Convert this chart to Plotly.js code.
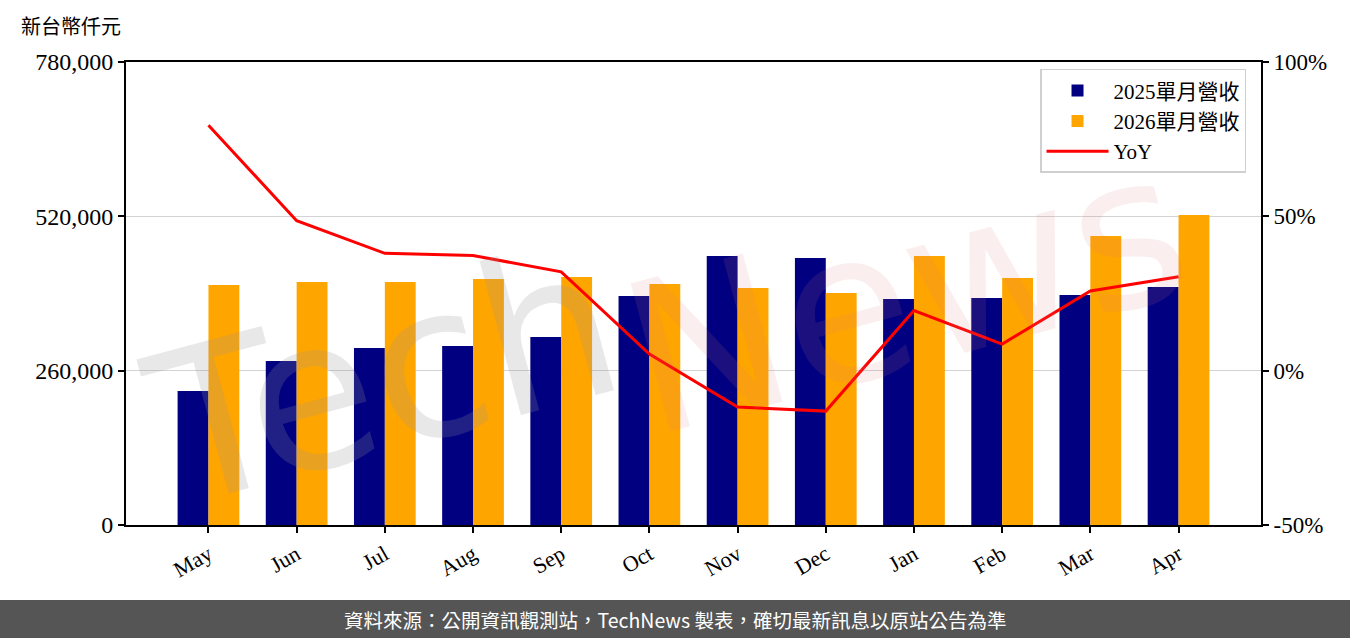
<!DOCTYPE html>
<html>
<head>
<meta charset="utf-8">
<script src="https://cdn.plot.ly/plotly-3.0.1.min.js"></script>
<style>
html,body{margin:0;padding:0;background:#fff;}
#chart{width:1350px;height:638px;}
</style>
</head>
<body>
<div id="chart"></div>
<script>
const months = ["May","Jun","Jul","Aug","Sep","Oct","Nov","Dec","Jan","Feb","Mar","Apr"];
const rev2025 = [225700, 276300, 298200, 301600, 316700, 385800, 453200, 449800, 380700, 382400, 387500, 401000];
const rev2026 = [404300, 409400, 409400, 414400, 417800, 406000, 399300, 390900, 453200, 416100, 486900, 522300];
const yoy = [79.5, 48.6, 38.0, 37.3, 32.0, 5.4, -11.8, -13.1, 19.5, 8.6, 25.8, 30.4];
const leftTicks = [0, 260000, 520000, 780000];
const rightTicks = [-50, 0, 50, 100];
const rightTickText = ["-50%", "0%", "50%", "100%"];
const unitLabel = "新台幣仟元";
const footerText = "資料來源：公開資訊觀測站，TechNews 製表，確切最新訊息以原站公告為準";

const serif = "'Liberation Serif', 'DejaVu Serif', 'Noto Sans CJK TC', serif";

const traces = [
  {type:"bar", name:"2025單月營收", x:months, y:rev2025, marker:{color:"#000080"}, yaxis:"y"},
  {type:"bar", name:"2026單月營收", x:months, y:rev2026, marker:{color:"#FFA500"}, yaxis:"y"},
  {type:"scatter", mode:"lines", name:"YoY", x:months, y:yoy, line:{color:"#FF0000", width:3}, yaxis:"y2"}
];

const layout = {
  width:1350, height:638,
  margin:{l:126, r:89, t:62, b:113},
  paper_bgcolor:"#fff", plot_bgcolor:"#fff",
  font:{family:serif, size:19, color:"#000"},
  barmode:"group", bargap:0.3, bargroupgap:0,
  showlegend:true,
  legend:{x:0.9868, xanchor:"right", y:0.985, yanchor:"top",
    bgcolor:"rgba(255,255,255,0.85)", bordercolor:"#d0d0d0", borderwidth:1.5,
    font:{family:serif, size:21}, itemwidth:62, tracegroupgap:0},
  xaxis:{type:"category", range:[-0.935, 11.935], showline:true, linecolor:"#000", linewidth:2, mirror:true,
    ticks:"outside", ticklen:6, tickwidth:2, tickcolor:"#000", tickangle:-30,
    tickfont:{family:serif, size:22}, showgrid:false, zeroline:false},
  yaxis:{range:[0,780000], tickvals:leftTicks, tickformat:",d", showline:true, linecolor:"#000", linewidth:2,
    ticks:"outside", ticklen:6, tickwidth:2, tickcolor:"#000", tickfont:{family:serif, size:24},
    showgrid:true, gridcolor:"#d3d3d3", gridwidth:1.5, zeroline:false},
  yaxis2:{overlaying:"y", side:"right", range:[-50,100], tickvals:rightTicks, ticktext:rightTickText,
    showline:true, linecolor:"#000", linewidth:2, ticks:"outside", ticklen:6, tickwidth:2, tickcolor:"#000",
    tickfont:{family:serif, size:23}, showgrid:false, zeroline:false},
  shapes:[
    {type:"rect", xref:"paper", yref:"paper", x0:-0.12, x1:1.09, y0:-0.245, y1:-0.162,
      fillcolor:"#555555", line:{width:0}, layer:"above"}
  ],
  annotations:[
    {text:"Tech", xref:"x", yref:"y", x:2.0, y:250000, showarrow:false, textangle:-15,
      font:{family:"'DejaVu Sans', sans-serif", size:210, color:"rgba(150,150,150,0.22)"}},
    {text:"News", xref:"x", yref:"y", x:7.9, y:390000, showarrow:false, textangle:-15,
      font:{family:"'DejaVu Sans', sans-serif", size:210, color:"rgba(220,120,120,0.13)"}},
    {text:unitLabel, xref:"paper", yref:"paper", x:-0.094, y:1.078, xanchor:"left", yanchor:"middle",
      showarrow:false, font:{family:"'Noto Sans CJK TC', sans-serif", size:20, color:"#000"}},
    {text:footerText, xref:"paper", yref:"paper", x:0.4837, y:-0.2035, xanchor:"center", yanchor:"middle",
      showarrow:false, font:{family:"'Noto Sans CJK TC', sans-serif", size:19.5, color:"#fff"}}
  ]
};

Plotly.newPlot("chart", traces, layout, {displayModeBar:false, staticPlot:true});
</script>
</body>
</html>
